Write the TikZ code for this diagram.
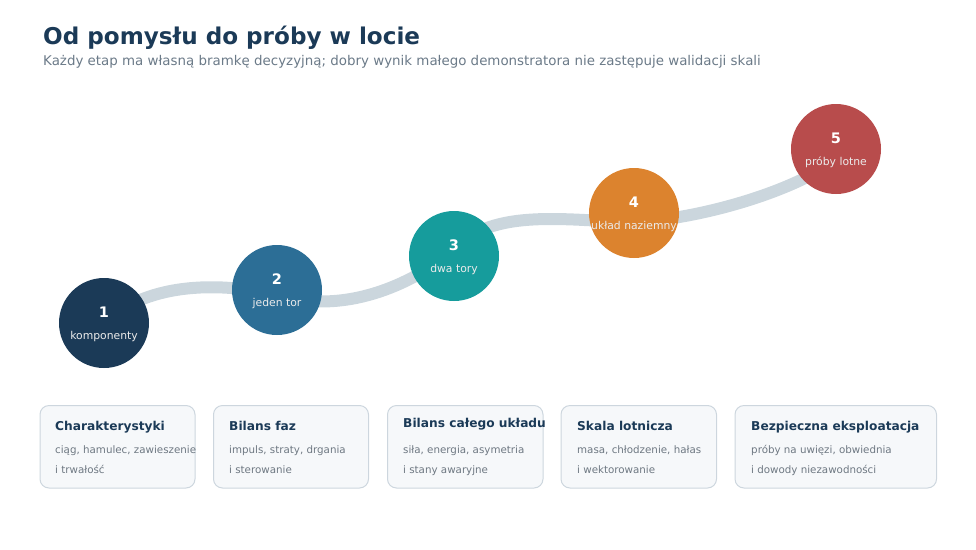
\documentclass[tikz,border=0pt]{standalone}
\usepackage{fontspec}
\setmainfont{DejaVu Sans}
\usetikzlibrary{calc}
\definecolor{navy}{HTML}{1B3A57}
\definecolor{cblue}{HTML}{2C6E96}
\definecolor{cteal}{HTML}{169C9C}
\definecolor{corange}{HTML}{DC832E}
\definecolor{cred}{HTML}{B84C4C}
\definecolor{track}{HTML}{CBD6DD}
\definecolor{subgrey}{HTML}{6B7A88}
\definecolor{bodygrey}{HTML}{6E7882}
\definecolor{cardfill}{HTML}{F6F8FA}
\definecolor{cardline}{HTML}{CDD6DE}
\tikzset{
  stage/.style={circle, minimum size=90pt, inner sep=0pt, fill=#1},
  stagenum/.style={anchor=base, inner sep=0pt, text=white, font=\bfseries\fontsize{14.5}{16}\selectfont},
  stagelbl/.style={anchor=base, inner sep=0pt, text=white!92!black, font=\fontsize{10.8}{12}\selectfont},
  card/.style={draw=cardline, line width=1pt, fill=cardfill, rounded corners=9pt},
  cardtitle/.style={anchor=base west, inner sep=0pt, text=navy, font=\bfseries\fontsize{12.2}{14}\selectfont},
  cardbody/.style={anchor=base west, inner sep=0pt, text=bodygrey, font=\fontsize{10.3}{12}\selectfont},
  trackline/.style={draw=track, line width=12pt}
}
\begin{document}
\begin{tikzpicture}[x=1pt,y=-1pt]
\useasboundingbox (0,0) rectangle (976,549);
% title
\node[anchor=base west, inner sep=0pt, text=navy, font=\bfseries\fontsize{23.1}{26}\selectfont] (title) at (43,44) {Od pomysłu do próby w locie};
\node[anchor=base west, inner sep=0pt, text=subgrey, font=\fontsize{13.4}{16}\selectfont] (subtitle) at (43,65.5) {Każdy etap ma własną bramkę decyzyjną; dobry wynik małego demonstratora nie zastępuje walidacji skali};
% waypoints of the track
\coordinate (w1) at (104,323);
\coordinate (w2) at (277,295);
\coordinate (w3) at (452,252);
\coordinate (w4) at (634,222);
\coordinate (w5) at (836,160);
\draw[trackline] (w1) .. controls (150,280) and (225,283) .. (w2)
  .. controls (345,315) and (410,285) .. (w3)
  .. controls (490,205) and (575,222) .. (w4)
  .. controls (690,220) and (785,196) .. (w5);
% stages
\node[stage=navy] (s1) at (104,323) {};
\node[stage=cblue] (s2) at (277,290) {};
\node[stage=cteal] (s3) at (454,256) {};
\node[stage=corange] (s4) at (634,213) {};
\node[stage=cred] (s5) at (836,149) {};
\foreach \s/\n/\t in {s1/1/komponenty, s2/2/jeden tor, s3/3/dwa tory, s4/4/układ naziemny, s5/5/próby lotne}{
  \node[stagenum] (\s n) at ($(\s)+(0,-6)$) {\n};
  \node[stagelbl] (\s l) at ($(\s)+(0,16)$) {\t};
}
% cards
\draw[card] (40,405.5) rectangle (195,488) node[pos=0, inner sep=0pt] (k1) {};
\draw[card] (213.5,405.5) rectangle (368.5,488) node[pos=0, inner sep=0pt] (k2) {};
\draw[card] (387.5,405.5) rectangle (543,488) node[pos=0, inner sep=0pt] (k3) {};
\draw[card] (561,405.5) rectangle (716.5,488) node[pos=0, inner sep=0pt] (k4) {};
\draw[card] (735,405.5) rectangle (936.5,488) node[pos=0, inner sep=0pt] (k5) {};
\node[cardtitle] (t1) at (55,430.5) {Charakterystyki};
\node[cardbody] (b1a) at (55,453) {ciąg, hamulec, zawieszenie};
\node[cardbody] (b1b) at (55,473) {i trwałość};
\node[cardtitle] (t2) at (229,430.5) {Bilans faz};
\node[cardbody] (b2a) at (229,453) {impuls, straty, drgania};
\node[cardbody] (b2b) at (229,473) {i sterowanie};
\node[cardtitle] (t3) at (403,427) {Bilans całego układu};
\node[cardbody] (b3a) at (403,453) {siła, energia, asymetria};
\node[cardbody] (b3b) at (403,473) {i stany awaryjne};
\node[cardtitle] (t4) at (577,430.5) {Skala lotnicza};
\node[cardbody] (b4a) at (577,453) {masa, chłodzenie, hałas};
\node[cardbody] (b4b) at (577,473) {i wektorowanie};
\node[cardtitle] (t5) at (751,430.5) {Bezpieczna eksploatacja};
\node[cardbody] (b5a) at (751,453) {próby na uwięzi, obwiednia};
\node[cardbody] (b5b) at (751,473) {i dowody niezawodności};
\end{tikzpicture}
\end{document}
